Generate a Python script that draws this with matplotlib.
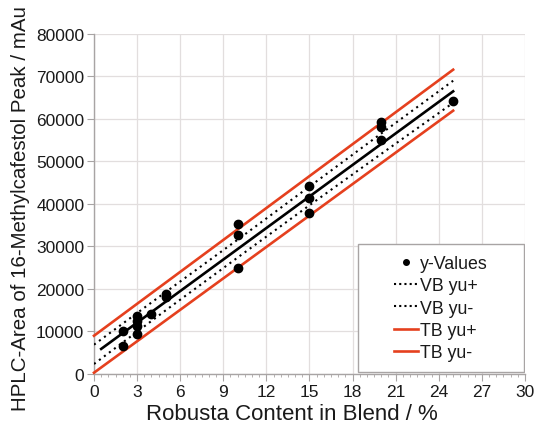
import matplotlib
matplotlib.use("Agg")
import matplotlib.pyplot as plt
from matplotlib.ticker import MultipleLocator
from matplotlib.patches import Rectangle
from matplotlib.lines import Line2D

plt.rcParams['font.family'] = ['Liberation Sans', 'DejaVu Sans']

# measured points (Robusta %, peak area)
x_vals = [2, 2, 3, 3, 3, 3, 4, 5, 5, 10, 10, 10, 15, 15, 15, 20, 20, 20, 25]
y_vals = [10000, 6700, 13600, 12500, 11400, 9400, 14000, 18800, 18000,
          35200, 32700, 24900, 44200, 41300, 37900, 59200, 58000, 55000, 64300]

# regression line
fit_x = [0.5, 25]
fit_y = [5900, 66500]

# confidence band (VB) and prediction band (TB)
band_x = [0, 5, 10, 15, 20, 25]
vb_upper = [6900, 19300, 31600, 44100, 56600, 69000]
vb_lower = [2350, 15000, 27400, 39700, 51800, 63800]
tb_x = [0, 25]
tb_upper = [9000, 71600]
tb_lower = [300, 61950]

red = '#e5401e'
fig = plt.figure(figsize=(5.38, 4.27), dpi=100)
ax = fig.add_axes([0.1747, 0.1218, 0.8011, 0.7963])

ax.plot(fit_x, fit_y, color='black', lw=1.9, zorder=3)
ax.plot(band_x, vb_upper, color='black', lw=1.5, ls=(0, (1, 2)), zorder=3)
ax.plot(band_x, vb_lower, color='black', lw=1.5, ls=(0, (1, 2)), zorder=3)
ax.plot(tb_x, tb_upper, color=red, lw=1.9, zorder=3, clip_on=False)
ax.plot(tb_x, tb_lower, color=red, lw=1.9, zorder=3, clip_on=False)
ax.plot(x_vals, y_vals, 'o', color='black', ms=6, zorder=4)

ax.set_xlim(0, 30)
ax.set_ylim(0, 80000)
ax.xaxis.set_major_locator(MultipleLocator(3))
ax.xaxis.set_minor_locator(MultipleLocator(0.5))
ax.yaxis.set_major_locator(MultipleLocator(10000))
ax.grid(True, which='major', color='#e2dede', lw=0.9, zorder=0)
ax.set_axisbelow(True)

for s in ['top', 'right']:
    ax.spines[s].set_visible(False)
for s in ['left', 'bottom']:
    ax.spines[s].set_color('#a8a4a4')
    ax.spines[s].set_linewidth(1.0)

ax.tick_params(axis='both', which='major', direction='out', length=5,
               color='#a8a4a4', labelsize=12.5, labelcolor='#1a1a1a', pad=2)
ax.tick_params(axis='x', which='minor', direction='out', length=2.5, color='#a8a4a4')

ax.set_xlabel('Robusta Content in Blend / %', fontsize=16, color='#1a1a1a',
              labelpad=3, x=0.46)
ax.set_ylabel('HPLC-Area of 16-Methylcafestol Peak / mAu', fontsize=14.8,
              color='#1a1a1a', labelpad=4, y=0.49)

# legend
lx0, ly0, lw_, lh = 0.612, 0.006, 0.385, 0.376
ax.add_patch(Rectangle((lx0, ly0), lw_, lh, transform=ax.transAxes,
                       facecolor='white', edgecolor='#a8a4a4', lw=1.0, zorder=5))
handles = [
    Line2D([], [], marker='o', color='black', ls='none', ms=4),
    Line2D([], [], color='black', lw=1.5, ls=(0, (1, 1.5))),
    Line2D([], [], color='black', lw=1.5, ls=(0, (1, 1.5))),
    Line2D([], [], color=red, lw=1.9),
    Line2D([], [], color=red, lw=1.9),
]
labels = ['y-Values', 'VB yu+', 'VB yu-', 'TB yu+', 'TB yu-']
leg = ax.legend(handles, labels, loc='center', bbox_to_anchor=(lx0, ly0, lw_, lh),
                bbox_transform=ax.transAxes, frameon=False, fontsize=12.8,
                handlelength=1.4, handletextpad=0.1, labelspacing=0.3)
leg.set_zorder(6)
for t in leg.get_texts():
    t.set_color('#1a1a1a')

fig.savefig('out.png', dpi=100)
